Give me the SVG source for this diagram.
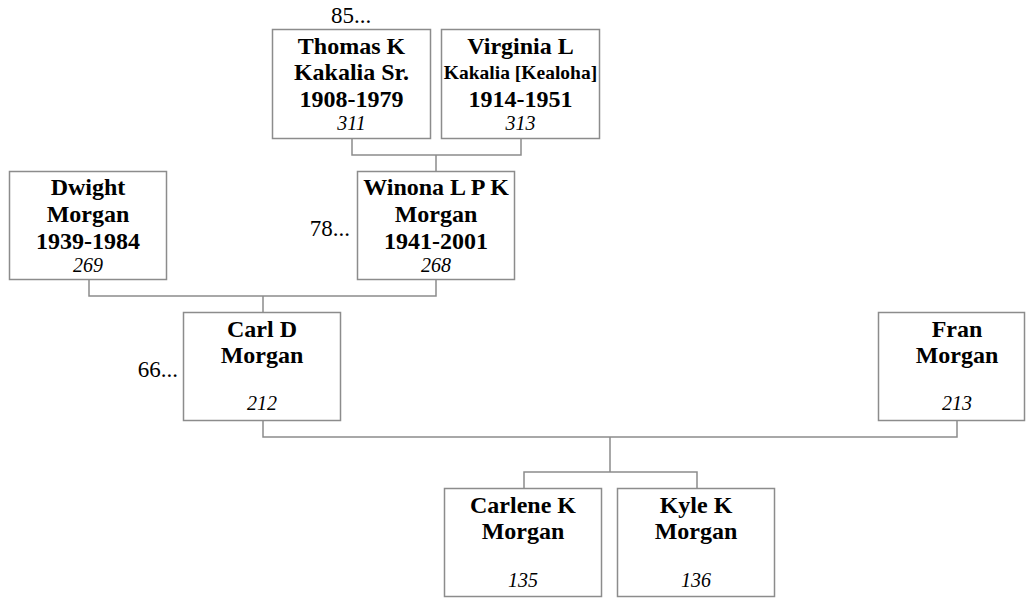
<svg xmlns="http://www.w3.org/2000/svg" width="1026" height="599" viewBox="0 0 1026 599">
<style>
.box{fill:#fff;stroke:#8c8c8c;stroke-width:1.5}
.ln{fill:none;stroke:#8c8c8c;stroke-width:1.5}
.nm{font-family:"Liberation Serif","Times New Roman",serif;font-weight:bold;font-size:24px;text-anchor:middle;fill:#000}
.sm{font-size:19.5px}
.id{font-family:"Liberation Serif","Times New Roman",serif;font-style:italic;font-size:20px;text-anchor:middle;fill:#000}
.more{font-family:"Liberation Serif","Times New Roman",serif;font-size:23px;fill:#000}
</style>
<rect width="1026" height="599" fill="#fff"/>
<g id="connectors">
<path class="ln" d="M352 138V155H521V138M436 155V171"/>
<path class="ln" d="M89 279V296H436V279M263 296V312"/>
<path class="ln" d="M263 421V437H957V421M610 437V472M524 488V472H697V488"/>
</g>
<g id="n311">
<text class="more" x="351" y="23" text-anchor="middle">85...</text>
<rect class="box" x="272.5" y="29.5" width="158" height="109"/>
<text class="nm" x="351.5" y="53.5">Thomas K</text>
<text class="nm" x="351.5" y="80">Kakalia Sr.</text>
<text class="nm" x="351.5" y="107">1908-1979</text>
<text class="id" x="351.5" y="130">311</text>
</g>
<g id="n313">
<rect class="box" x="441.5" y="29.5" width="158" height="109"/>
<text class="nm" x="520.5" y="53.5">Virginia L</text>
<text class="nm sm" x="520.5" y="78.5">Kakalia [Kealoha]</text>
<text class="nm" x="520.5" y="107">1914-1951</text>
<text class="id" x="520.5" y="130">313</text>
</g>
<g id="n269">
<rect class="box" x="9.5" y="171.5" width="157" height="108"/>
<text class="nm" x="88" y="195">Dwight</text>
<text class="nm" x="88" y="222">Morgan</text>
<text class="nm" x="88" y="249">1939-1984</text>
<text class="id" x="88" y="271.5">269</text>
</g>
<g id="n268">
<text class="more" x="350" y="236" text-anchor="end">78...</text>
<rect class="box" x="357.5" y="171.5" width="157" height="108"/>
<text class="nm" x="436" y="195">Winona L P K</text>
<text class="nm" x="436" y="222">Morgan</text>
<text class="nm" x="436" y="249">1941-2001</text>
<text class="id" x="436" y="271.5">268</text>
</g>
<g id="n212">
<text class="more" x="178" y="377" text-anchor="end">66...</text>
<rect class="box" x="183.5" y="312.5" width="157" height="108"/>
<text class="nm" x="262" y="337">Carl D</text>
<text class="nm" x="262" y="362.5">Morgan</text>
<text class="id" x="262" y="410">212</text>
</g>
<g id="n213">
<rect class="box" x="878.5" y="312.5" width="146" height="108"/>
<text class="nm" x="957" y="337">Fran</text>
<text class="nm" x="957" y="362.5">Morgan</text>
<text class="id" x="957" y="410">213</text>
</g>
<g id="n135">
<rect class="box" x="444.5" y="488.5" width="157" height="108"/>
<text class="nm" x="523" y="513">Carlene K</text>
<text class="nm" x="523" y="538.5">Morgan</text>
<text class="id" x="523" y="586.5">135</text>
</g>
<g id="n136">
<rect class="box" x="617.5" y="488.5" width="157" height="108"/>
<text class="nm" x="696" y="513">Kyle K</text>
<text class="nm" x="696" y="538.5">Morgan</text>
<text class="id" x="696" y="586.5">136</text>
</g>
</svg>
